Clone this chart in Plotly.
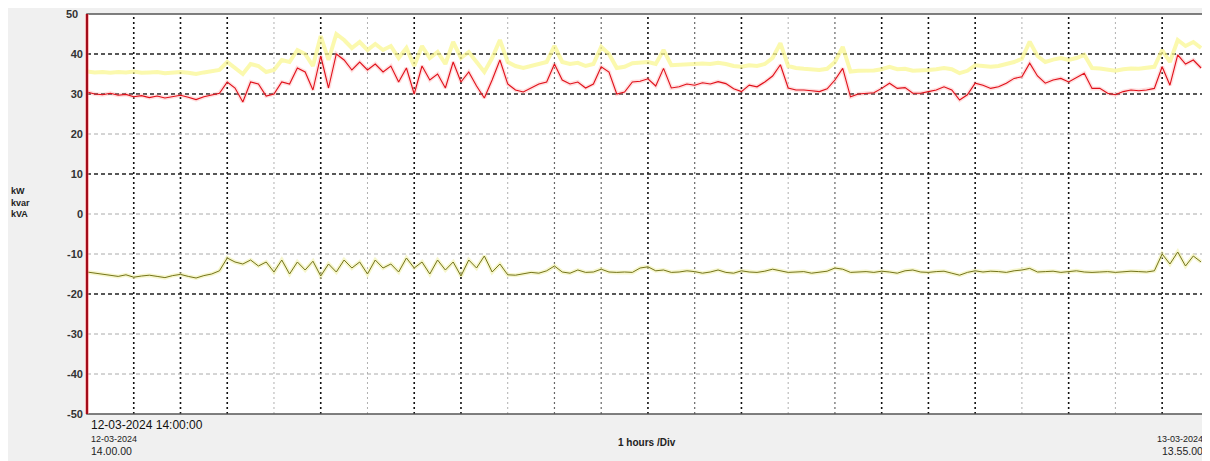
import pandas as pd
import plotly.graph_objects as go

# ---- data (10-minute samples) ----
START = "2024-03-12 14:00"
END = "2024-03-13 13:55"

kw = [30.5, 30.0, 29.8, 30.2, 29.7, 29.9, 29.3, 29.6, 29.1, 29.5, 29.0, 29.4, 29.7, 29.2, 28.6, 29.3, 29.8, 30.2,
      33.0, 31.5, 28.0, 33.0, 32.5, 29.5, 30.0, 33.0, 32.5, 36.5, 35.5, 31.0, 39.5, 31.5, 40.0, 38.5, 36.0, 38.0,
      36.0, 37.5, 35.5, 37.0, 33.0, 36.5, 30.0, 37.0, 33.5, 35.0, 31.5, 38.0, 33.0, 35.5, 32.0, 29.0, 33.5, 38.5,
      32.5, 31.0, 30.5, 31.5, 32.5, 33.0, 37.5, 33.5, 32.5, 33.0, 31.5, 32.5, 36.8, 35.5, 30.0, 30.5, 33.0, 33.2,
      33.8, 32.0, 36.4, 31.5, 31.8, 32.5, 32.2, 32.8, 32.5, 33.1, 32.6, 31.3, 30.6, 32.2, 31.8, 33.0, 34.5, 37.3,
      31.5, 31.0, 31.0, 30.8, 30.6, 31.3, 33.5, 36.4, 29.3, 30.0, 30.2, 30.3, 31.4, 32.7, 31.4, 31.6, 30.2, 30.2,
      30.6, 31.0, 31.8, 31.0, 28.5, 29.8, 32.7, 32.2, 31.4, 31.8, 32.7, 33.9, 34.3, 37.7, 34.5, 32.7, 33.5, 33.9,
      33.0, 34.0, 35.2, 31.4, 31.4, 30.2, 29.8, 30.6, 31.0, 30.8, 31.0, 31.4, 36.8, 32.2, 39.8, 37.5, 38.5, 36.5]

kva = [35.6, 35.4, 35.5, 35.3, 35.5, 35.4, 35.6, 35.3, 35.4, 35.5, 35.2, 35.4, 35.5, 35.3, 35.0, 35.4, 35.6, 36.0,
       38.0, 36.5, 35.0, 37.5, 37.0, 35.5, 36.0, 38.5, 38.0, 41.0, 40.0, 37.0, 44.5, 38.5, 45.0, 43.5, 41.5, 43.0,
       41.0, 42.5, 41.0, 42.0, 39.0, 41.5, 37.0, 42.0, 39.0, 40.5, 37.5, 43.0, 39.0, 40.5, 38.0, 35.5, 39.0, 43.5,
       38.0, 37.0, 36.5, 37.0, 37.5, 38.0, 42.0, 38.0, 37.5, 37.8, 37.0, 37.5, 41.8, 40.0, 36.5, 36.8, 37.7, 37.8,
       38.0, 37.5, 41.0, 37.2, 37.3, 37.5, 37.4, 37.6, 37.5, 37.8, 37.5, 37.0, 36.8, 37.2, 37.0, 37.5, 39.0, 42.7,
       37.0, 36.5, 36.3, 36.2, 36.0, 36.3, 38.0, 41.8, 35.6, 35.8, 35.8, 35.9, 36.2, 36.8, 36.2, 36.3, 35.8, 35.8,
       36.0, 36.2, 36.5, 36.2, 35.2, 35.8, 37.2, 37.0, 36.8, 37.0, 37.5, 38.0, 38.8, 43.1, 39.5, 38.0, 38.6, 39.0,
       38.5, 39.0, 39.8, 36.5, 36.4, 36.0, 35.8, 36.2, 36.4, 36.3, 36.5, 36.8, 41.0, 38.0, 43.5, 42.0, 43.0, 41.5]

kvar = [-14.5, -14.8, -15.0, -15.4, -15.6, -15.2, -15.8, -15.5, -15.3, -15.6, -15.9, -15.4, -15.1, -15.6, -16.0, -15.4, -15.0, -14.2,
        -11.0, -12.0, -12.5, -11.5, -13.0, -12.0, -14.5, -11.5, -15.0, -12.0, -14.0, -11.8, -15.5, -12.5, -14.5, -11.5, -13.5, -12.0,
        -15.0, -11.5, -13.5, -12.5, -14.5, -11.0, -13.5, -12.0, -15.0, -11.5, -14.0, -12.0, -15.5, -11.5, -13.5, -10.5, -14.5, -12.5,
        -15.2, -15.3, -15.0, -14.6, -14.8, -14.2, -13.0, -14.5, -14.8, -14.0, -14.6, -14.5, -13.8, -14.5, -14.6, -14.5, -14.6, -13.5,
        -13.2, -14.2, -14.0, -14.6, -14.5, -14.2, -14.4, -14.8, -14.5, -14.0, -14.6, -14.8, -14.2, -14.5, -14.6, -14.3, -13.8, -14.2,
        -14.6, -14.5, -14.4, -14.8, -14.5, -14.3, -13.5, -13.8, -14.6, -14.5, -14.4, -14.6, -14.3, -14.5, -14.8, -14.2, -14.0, -14.5,
        -14.6, -14.4, -14.3, -14.8, -15.3, -14.6, -14.2, -14.5, -14.3, -14.4, -14.6, -14.2, -14.0, -13.6, -14.5, -14.4, -14.3, -14.6,
        -14.4, -14.2, -14.5, -14.6, -14.5, -14.4, -14.6, -14.5, -14.3, -14.4, -14.5, -14.2, -10.0, -12.5, -9.5, -13.0, -10.5, -12.0]

y_ticks = [50, 40, 30, 20, 10, 0, -10, -20, -30, -40, -50]
grid_hours = list(range(1, 24))
grid_values = [40, 30, 20, 10, 0, -10, -20, -30, -40]

times = pd.date_range(START, periods=len(kw), freq="10min")

# ---- styles ----
DARK_V = {1, 2, 3, 5, 7, 8, 12, 14, 17, 18, 19, 21, 23}
MID_V = {10, 11, 13, 16}
DARK_H = {40, 30, 10, -20}
FONT = "Liberation Sans, Arial, sans-serif"
TICKFONT = dict(family=FONT, size=11, color="#333333", weight="bold")

fig = go.Figure()

# yellow kVA (broad pale line)
fig.add_trace(go.Scatter(x=times, y=kva, mode="lines",
                         line=dict(color="rgba(250,246,140,0.7)", width=4),
                         hoverinfo="skip", showlegend=False))
# red kW halo + line
fig.add_trace(go.Scatter(x=times, y=kw, mode="lines",
                         line=dict(color="rgba(255,150,150,0.3)", width=4),
                         hoverinfo="skip", showlegend=False))
fig.add_trace(go.Scatter(x=times, y=kw, mode="lines",
                         line=dict(color="#e0101a", width=1.1),
                         showlegend=False))
# olive kvar halo + line
fig.add_trace(go.Scatter(x=times, y=kvar, mode="lines",
                         line=dict(color="rgba(240,240,170,0.6)", width=4),
                         hoverinfo="skip", showlegend=False))
fig.add_trace(go.Scatter(x=times, y=kvar, mode="lines",
                         line=dict(color="#74741a", width=1),
                         showlegend=False))

shapes = []
t0 = pd.Timestamp(START)
for h in grid_hours:
    if h in DARK_V:
        col, w = "#111111", 1.6
    elif h in MID_V:
        col, w = "#666666", 1.2
    else:
        col, w = "#b0b0b0", 1
    xt = t0 + pd.Timedelta(hours=h)
    shapes.append(dict(type="line", xref="x", yref="paper", x0=xt, x1=xt, y0=0, y1=1,
                       line=dict(color=col, width=w, dash="2px,3px"), layer="below"))
for v in grid_values:
    if v in DARK_H:
        col, w = "#222222", 1.4
    else:
        col, w = "#aaaaaa", 1
    shapes.append(dict(type="line", xref="paper", yref="y", x0=0, x1=1, y0=v, y1=v,
                       line=dict(color=col, width=w, dash="4px,3px"), layer="below"))
# border
shapes.append(dict(type="rect", xref="paper", yref="paper", x0=0, x1=1, y0=0, y1=1,
                   line=dict(color="#555555", width=1.5), layer="above"))
# red left axis
shapes.append(dict(type="line", xref="paper", yref="paper", x0=0, x1=0, y0=0, y1=1,
                   line=dict(color="rgba(255,120,120,0.5)", width=4), layer="above"))
shapes.append(dict(type="line", xref="paper", yref="paper", x0=0, x1=0, y0=0, y1=1,
                   line=dict(color="#a00010", width=1.8), layer="above"))

annotations = [
    # top tick label (drawn as text so it is not dropped at the edge)
    dict(text=str(y_ticks[0]), xref="paper", yref="y", x=-0.0065, y=y_ticks[0],
         xanchor="right", yanchor="middle", showarrow=False, font=TICKFONT),
    dict(text="kW<br>kvar<br>kVA", xref="paper", yref="paper", x=-0.0695, y=0.53,
         xanchor="left", yanchor="middle", showarrow=False, align="left",
         font=dict(family=FONT, size=9, color="#222222", weight="bold")),
    dict(text="12-03-2024 14:00:00", xref="paper", yref="paper", x=0.002, y=-0.0275,
         xanchor="left", yanchor="middle", showarrow=False,
         font=dict(family=FONT, size=12, color="#111111")),
    dict(text="12-03-2024", xref="paper", yref="paper", x=0.002, y=-0.063,
         xanchor="left", yanchor="middle", showarrow=False,
         font=dict(family=FONT, size=9, color="#222222")),
    dict(text="14.00.00", xref="paper", yref="paper", x=0.002, y=-0.093,
         xanchor="left", yanchor="middle", showarrow=False,
         font=dict(family=FONT, size=10.5, color="#222222")),
    dict(text="1 hours /Div", xref="paper", yref="paper", x=0.501, y=-0.07,
         xanchor="center", yanchor="middle", showarrow=False,
         font=dict(family=FONT, size=10, color="#222222", weight="bold")),
    dict(text="13-03-2024", xref="paper", yref="paper", x=1.0, y=-0.063,
         xanchor="right", yanchor="middle", showarrow=False,
         font=dict(family=FONT, size=9, color="#222222")),
    dict(text="13.55.00", xref="paper", yref="paper", x=1.0, y=-0.093,
         xanchor="right", yanchor="middle", showarrow=False,
         font=dict(family=FONT, size=10.5, color="#222222")),
]

fig.update_layout(
    width=1202, height=453,
    margin=dict(l=79, r=5, t=6, b=47),
    paper_bgcolor="#f0f0f0", plot_bgcolor="#ffffff",
    showlegend=False,
    shapes=shapes, annotations=annotations,
    xaxis=dict(type="date", range=[START, END], showgrid=False, zeroline=False,
               showticklabels=False, ticks="", showline=False),
    yaxis=dict(range=[-50, 50], tickvals=y_ticks[1:], ticktext=[str(v) for v in y_ticks[1:]],
               showgrid=False, zeroline=False, ticks="", showline=False,
               ticklabelstandoff=3, tickfont=TICKFONT),
)

fig.write_html("out.html")
